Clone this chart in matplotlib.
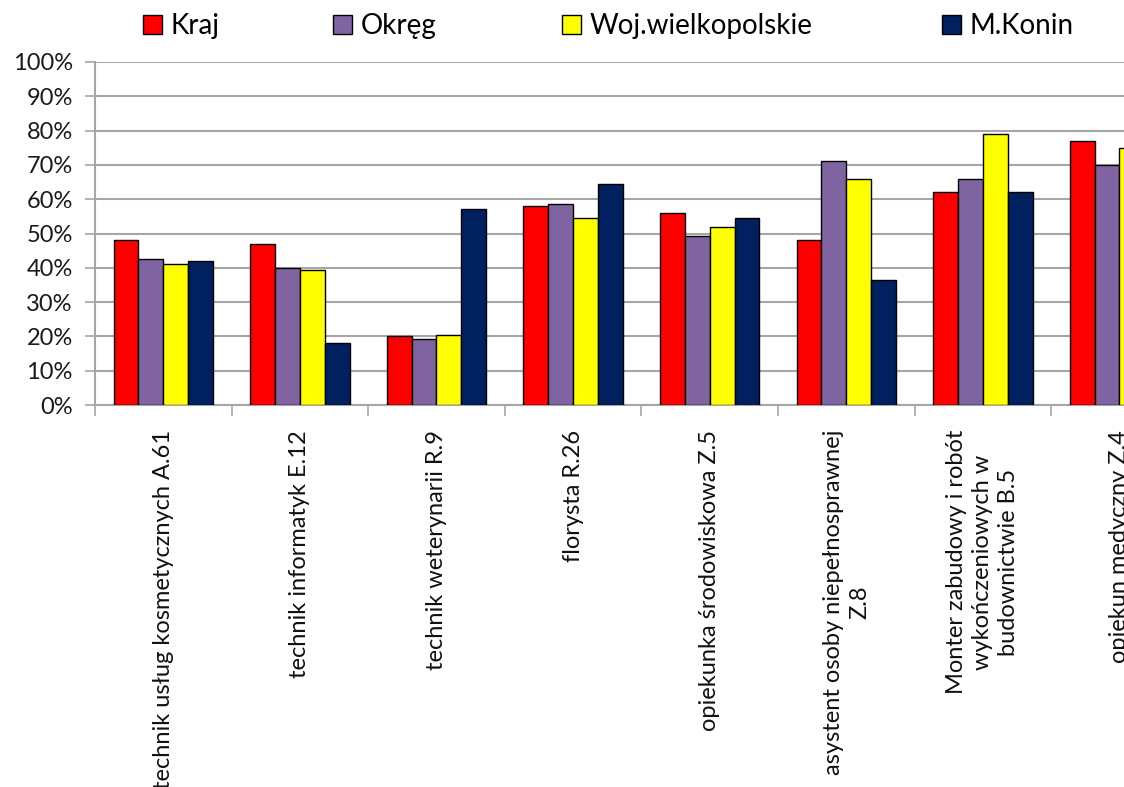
import matplotlib
matplotlib.use("Agg")
import matplotlib.pyplot as plt
from matplotlib.patches import Patch
import numpy as np

categories = [
    "technik usług kosmetycznych A.61",
    "technik informatyk E.12",
    "technik weterynarii R.9",
    "florysta R.26",
    "opiekunka środowiskowa Z.5",
    "asystent osoby niepełnosprawnej\nZ.8",
    "Monter zabudowy i robót\nwykończeniowych w\nbudownictwie B.5",
    "opiekun medyczny Z.4",
]
series_names = ["Kraj", "Okręg", "Woj.wielkopolskie", "M.Konin"]
kraj = [48, 47, 20, 58, 56, 48, 62, 77]
okreg = [42.5, 40, 19.2, 58.5, 49.3, 71, 65.8, 70]
woj = [41, 39.3, 20.3, 54.5, 52, 66, 79, 75]
konin = [42, 18, 57, 64.3, 54.5, 36.5, 62, 70]
colors = ["#FF0000", "#8064A2", "#FFFF00", "#002060"]
yticks = [0, 10, 20, 30, 40, 50, 60, 70, 80, 90, 100]
ytick_labels = [f"{v}%" for v in yticks]

plt.rcParams["font.family"] = ["Lato", "DejaVu Sans"]

fig = plt.figure(figsize=(11.24, 7.87), dpi=100)
W, H = 1124, 787
ax = fig.add_axes([95 / W, 1 - 405 / H, 8 * 136.6 / W, (405 - 62) / H])

x = np.arange(len(categories)) + 0.5
bw = 0.182
data = [kraj, okreg, woj, konin]
for i, (vals, c) in enumerate(zip(data, colors)):
    ax.bar(x + (i - 1.5) * bw, vals, width=bw, color=c, edgecolor="black",
           linewidth=1.0, zorder=3)

ax.set_xlim(0, len(categories))
ax.set_ylim(0, 100)
ax.set_yticks(yticks)
ax.set_yticklabels(ytick_labels, fontsize=17, color="#1a1a1a")
ax.yaxis.grid(True, color="#A6A6A6", linewidth=1.5, zorder=0)
ax.tick_params(axis="y", length=7, width=1.2, color="#A6A6A6", pad=9)

ax.set_xticks(x)
ax.set_xticklabels(categories, rotation=90, fontsize=17, color="#111111",
                   ha="center", va="top", multialignment="center",
                   linespacing=1.3)
ax.tick_params(axis="x", which="major", length=0, pad=18)
ax.set_xticks(np.arange(0, len(categories) + 1), minor=True)
ax.tick_params(axis="x", which="minor", length=8, width=1.2, color="#A6A6A6")

for s in ["top", "right"]:
    ax.spines[s].set_visible(False)
for s in ["left", "bottom"]:
    ax.spines[s].set_color("#A6A6A6")
    ax.spines[s].set_linewidth(1.5)

legend_x = [143, 333, 562, 942]
for name, c, lx in zip(series_names, colors, legend_x):
    h = Patch(facecolor=c, edgecolor="black", linewidth=1.0)
    fig.legend([h], [name], loc="center left",
               bbox_to_anchor=(lx / W, 1 - 26 / H), frameon=False,
               fontsize=20, handlelength=0.7, handleheight=0.7,
               handletextpad=0.3, borderpad=0, borderaxespad=0)

fig.savefig("out.png", dpi=100)
